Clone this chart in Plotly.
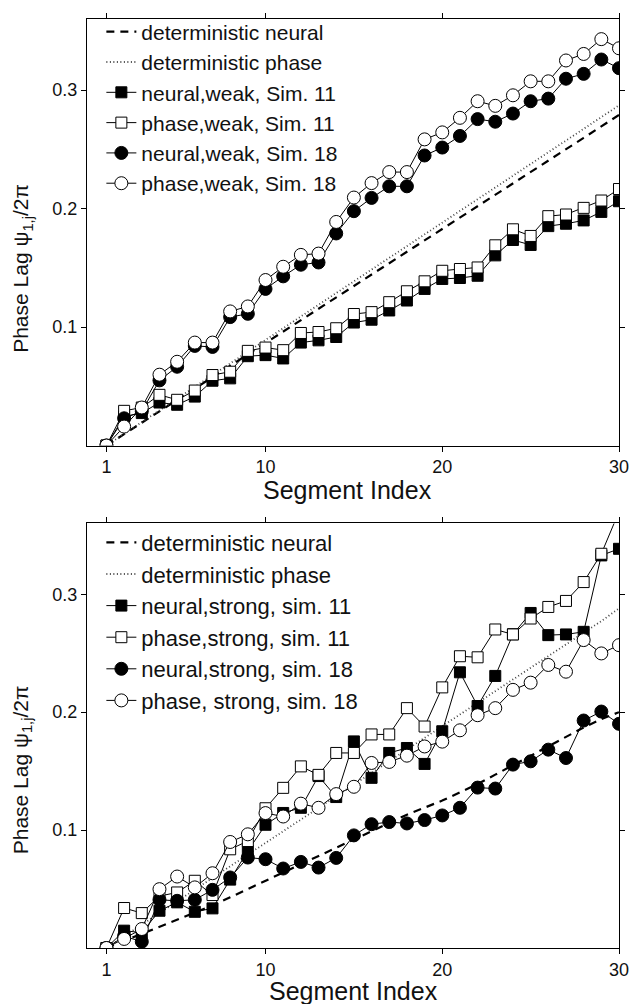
import plotly.graph_objects as go

segments = list(range(1, 31))

# ---------- top panel (weak coupling) ----------
det_neural_weak = [0, 0.0096, 0.0192, 0.0289, 0.0385, 0.0481, 0.0577, 0.0673, 0.0770, 0.0866,
                   0.0962, 0.1058, 0.1154, 0.1251, 0.1347, 0.1443, 0.1539, 0.1635, 0.1732, 0.1828,
                   0.1924, 0.2020, 0.2116, 0.2213, 0.2309, 0.2405, 0.2501, 0.2597, 0.2694, 0.2790]
det_phase = [0, 0.0099, 0.0198, 0.0297, 0.0396, 0.0495, 0.0594, 0.0693, 0.0792, 0.0891,
             0.0990, 0.1089, 0.1188, 0.1287, 0.1386, 0.1485, 0.1584, 0.1683, 0.1782, 0.1881,
             0.1980, 0.2079, 0.2178, 0.2277, 0.2376, 0.2475, 0.2574, 0.2673, 0.2772, 0.2871]
neural_weak_11 = [0, 0.0246, 0.0274, 0.0363, 0.0344, 0.0413, 0.0547, 0.0567, 0.0754, 0.0763,
                  0.0735, 0.0869, 0.0888, 0.0916, 0.1038, 0.1062, 0.1140, 0.1224, 0.1322, 0.1406,
                  0.1414, 0.1433, 0.1605, 0.1735, 0.1693, 0.1852, 0.1872, 0.1900, 0.1972, 0.2062]
phase_weak_11 = [0, 0.0293, 0.0321, 0.0428, 0.0386, 0.0464, 0.0595, 0.0623, 0.0799, 0.0827,
                 0.0805, 0.0950, 0.0958, 0.0990, 0.1110, 0.1126, 0.1210, 0.1302, 0.1386, 0.1475,
                 0.1490, 0.1503, 0.1690, 0.1825, 0.1769, 0.1936, 0.1950, 0.2006, 0.2068, 0.2165]
neural_weak_18 = [0, 0.0230, 0.0290, 0.0550, 0.0665, 0.0841, 0.0832, 0.1084, 0.1112, 0.1322,
                  0.1428, 0.1526, 0.1545, 0.1790, 0.1978, 0.2090, 0.2188, 0.2188, 0.2448, 0.2515,
                  0.2613, 0.2755, 0.2733, 0.2802, 0.2906, 0.2928, 0.3096, 0.3137, 0.3258, 0.3185]
phase_weak_18 = [0, 0.0160, 0.0321, 0.0598, 0.0707, 0.0869, 0.0869, 0.1132, 0.1174, 0.1397,
                 0.1509, 0.1609, 0.1620, 0.1887, 0.2093, 0.2215, 0.2308, 0.2308, 0.2584, 0.2643,
                 0.2766, 0.2906, 0.2867, 0.2956, 0.3074, 0.3074, 0.3250, 0.3305, 0.3430, 0.3353]

# ---------- bottom panel (strong coupling) ----------
det_neural_strong = [0, 0.006, 0.012, 0.018, 0.024, 0.030, 0.036, 0.043, 0.050, 0.057,
                     0.064, 0.071, 0.078, 0.085, 0.092, 0.099, 0.106, 0.113, 0.119, 0.125,
                     0.132, 0.139, 0.147, 0.155, 0.163, 0.171, 0.179, 0.187, 0.194, 0.200]
det_phase_strong = [0, 0.0099, 0.0198, 0.0297, 0.0396, 0.0495, 0.0594, 0.0693, 0.0792, 0.0891,
                    0.0990, 0.1089, 0.1188, 0.1287, 0.1386, 0.1485, 0.1584, 0.1683, 0.1782, 0.1881,
                    0.1980, 0.2079, 0.2178, 0.2277, 0.2376, 0.2475, 0.2574, 0.2673, 0.2772, 0.2880]
neural_strong_11 = [0, 0.0147, 0.0130, 0.0316, 0.0387, 0.0307, 0.0336, 0.0580, 0.0823, 0.1045,
                    0.1145, 0.1189, 0.1458, 0.1280, 0.1752, 0.1443, 0.1654, 0.1696, 0.1561, 0.1838,
                    0.2338, 0.2052, 0.2307, 0.2660, 0.2841, 0.2653, 0.2659, 0.2681, 0.3329, 0.3385]
phase_strong_11 = [0, 0.0339, 0.0296, 0.0440, 0.0471, 0.0570, 0.0449, 0.0837, 0.0907, 0.1185,
                   0.1358, 0.1540, 0.1468, 0.1654, 0.1654, 0.1811, 0.1811, 0.2034, 0.1878, 0.2210,
                   0.2474, 0.2465, 0.2701, 0.2659, 0.2794, 0.2892, 0.2943, 0.3103, 0.3343, 0.3700]
neural_strong_18 = [0, 0.0100, 0.0054, 0.0409, 0.0400, 0.0409, 0.0493, 0.0598, 0.0767, 0.0753,
                    0.0674, 0.0730, 0.0682, 0.0764, 0.0955, 0.1050, 0.1068, 0.1056, 0.1085, 0.1124,
                    0.1189, 0.1360, 0.1352, 0.1555, 0.1583, 0.1682, 0.1611, 0.1929, 0.2005, 0.1901]
phase_strong_18 = [0, 0.0077, 0.0161, 0.0499, 0.0606, 0.0514, 0.0634, 0.0899, 0.0964, 0.1144,
                   0.1115, 0.1224, 0.1189, 0.1305, 0.1367, 0.1569, 0.1578, 0.1631, 0.1709, 0.1750,
                   0.1846, 0.1974, 0.2034, 0.2189, 0.2250, 0.2400, 0.2343, 0.2611, 0.2498, 0.2568]

x_ticks = [1, 10, 20, 30]
y_ticks = [0.1, 0.2, 0.3]
y_ticktext = ["0.1", "0.2", "0.3"]

top_names = ["deterministic neural", "deterministic phase", "neural,weak, Sim. 11",
             "phase,weak, Sim. 11", "neural,weak, Sim. 18", "phase,weak, Sim. 18"]
bot_names = ["deterministic neural", "deterministic phase", "neural,strong, sim. 11",
             "phase,strong, sim. 11", "neural,strong, sim. 18", "phase, strong, sim. 18"]
x_title = "Segment Index"
y_title = "Phase Lag \u03c8<sub>1,j</sub>/2\u03c0"

FONT = "Liberation Sans, Arial, Helvetica, sans-serif"
TXT = "#111111"

styles = [
    dict(mode="lines", line=dict(color="black", width=2.2, dash="8px,6px")),
    dict(mode="lines", line=dict(color="#444444", width=1.8, dash="1px,2.5px")),
    dict(mode="lines+markers", line=dict(color="black", width=1),
         marker=dict(symbol="square", size=11, color="black", line=dict(color="black", width=1))),
    dict(mode="lines+markers", line=dict(color="black", width=1),
         marker=dict(symbol="square", size=11, color="white", line=dict(color="black", width=1))),
    dict(mode="lines+markers", line=dict(color="black", width=1),
         marker=dict(symbol="circle", size=13, color="black", line=dict(color="black", width=1))),
    dict(mode="lines+markers", line=dict(color="black", width=1),
         marker=dict(symbol="circle", size=13, color="white", line=dict(color="black", width=1))),
]

fig = go.Figure()

top_series = [det_neural_weak, det_phase, neural_weak_11, phase_weak_11, neural_weak_18, phase_weak_18]
bot_series = [det_neural_strong, det_phase_strong, neural_strong_11, phase_strong_11,
              neural_strong_18, phase_strong_18]

for name, ys, st in zip(top_names, top_series, styles):
    fig.add_trace(go.Scatter(x=segments, y=ys, name=name, xaxis="x", yaxis="y",
                             legend="legend", cliponaxis=True, **st))
for name, ys, st in zip(bot_names, bot_series, styles):
    fig.add_trace(go.Scatter(x=segments, y=ys, name=name, xaxis="x2", yaxis="y2",
                             legend="legend2", cliponaxis=True, **st))

W, H = 641, 1004
ml, mr, mt, mb = 87, 13, 18, 56
ph = H - mt - mb
pw = W - ml - mr
top_dom = [(948 - 445) / ph, 1.0]
bot_dom = [0.0, (948 - 523) / ph]

axis_common = dict(showline=True, linecolor="black", linewidth=1.2, mirror="ticks",
                   ticks="outside", ticklen=5, tickwidth=1, tickcolor="black",
                   showgrid=False, zeroline=False,
                   tickfont=dict(family=FONT, size=18, color=TXT))

xaxis_common = dict(axis_common, range=[-0.1, 30], tickvals=x_ticks,
                    ticktext=[str(t) for t in x_ticks])
yaxis_common = dict(axis_common, range=[0, 0.36], tickvals=y_ticks, ticktext=y_ticktext)

fig.update_layout(
    width=W, height=H,
    margin=dict(l=ml, r=mr, t=mt, b=mb),
    plot_bgcolor="white", paper_bgcolor="white",
    font=dict(family=FONT, color=TXT),
    xaxis=dict(xaxis_common, anchor="y", domain=[0, 1]),
    yaxis=dict(yaxis_common, anchor="x", domain=top_dom),
    xaxis2=dict(xaxis_common, anchor="y2", domain=[0, 1]),
    yaxis2=dict(yaxis_common, anchor="x2", domain=bot_dom),
    legend=dict(x=0.027, y=1.008, xanchor="left", yanchor="top",
                bgcolor="rgba(0,0,0,0)", borderwidth=0,
                font=dict(family=FONT, size=21, color=TXT), tracegroupgap=0),
    legend2=dict(x=0.027, y=bot_dom[1] + 0.002, xanchor="left", yanchor="top",
                 bgcolor="rgba(0,0,0,0)", borderwidth=0,
                 font=dict(family=FONT, size=22, color=TXT), tracegroupgap=0),
    showlegend=True,
)

# axis titles placed as text beside/below each panel
for yc in [(948 - 268) / ph, (948 - 770) / ph]:
    fig.add_annotation(text=y_title, textangle=-90, xref="paper", yref="paper",
                       x=(21 - ml) / pw, y=yc, xanchor="center", yanchor="middle",
                       showarrow=False, font=dict(family=FONT, size=21, color=TXT))
for xc, yc in [(0.5 - 6 / pw, (948 - 490) / ph), (0.5, (948 - 991) / ph)]:
    fig.add_annotation(text=x_title, xref="paper", yref="paper",
                       x=xc, y=yc, xanchor="center", yanchor="middle",
                       showarrow=False, font=dict(family=FONT, size=25, color=TXT))

fig.write_html("out.html")
